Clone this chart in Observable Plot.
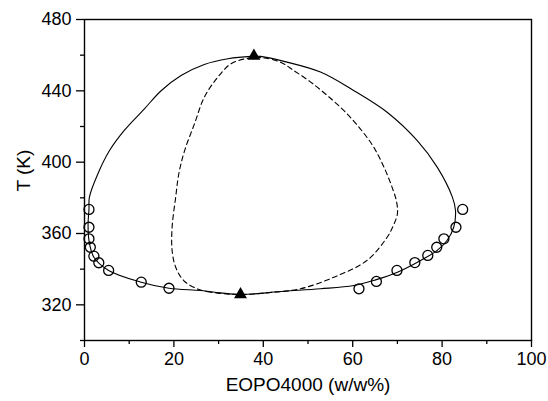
<!DOCTYPE html>
<html><head><meta charset="utf-8">
<script src="https://cdn.jsdelivr.net/npm/d3@7"></script>
<script src="https://cdn.jsdelivr.net/npm/@observablehq/plot@0.6"></script>
<style>body{margin:0;background:#fff}</style>
</head><body><div id="chart"></div>
<script>
// Experimental points (open circles)
const leftX  = [1.0, 1.0, 1.0, 1.3, 2.1, 3.2, 5.4, 12.7, 18.9];
const leftT  = [373.5, 363.5, 357.0, 352.3, 347.3, 343.6, 339.3, 332.7, 329.3];
const rightX = [61.4, 65.3, 69.9, 73.9, 76.8, 78.8, 80.4, 83.1, 84.6];
const rightT = [329.0, 333.1, 339.3, 343.7, 347.7, 352.3, 357.0, 363.5, 373.5];

// Critical points (filled triangles)
const critX = [37.9, 34.9];
const critT = [459.5, 325.8];

// Binodal (solid closed curve)
const binX = [34.9, 30.4, 26.0, 18.9, 12.7, 5.4, 2.1, 1.0, 0.8, 1.0, 1.1, 3.0, 5.6, 8.9, 13.4, 17.2, 21.6, 26.8, 32.1, 37.3,
              39.4, 45.3, 52.8, 60.2, 67.7, 74.4, 78.9, 82.3, 83.0, 82.6, 81.1, 78.9, 75.2, 70.0, 65.1, 60.2, 52.8, 44.6];
const binT = [325.8, 326.7, 328.0, 329.3, 332.7, 339.3, 346.7, 356.1, 365.6, 373.5, 380.4, 393.5, 406.5, 417.8, 429.9, 440.2, 448.6, 454.8, 458.0, 459.3,
              459.3, 456.1, 450.5, 440.2, 428.0, 412.2, 397.2, 380.4, 372.9, 363.5, 356.1, 350.5, 344.9, 338.3, 334.0, 330.8, 329.0, 327.6];

// Spinodal (dashed closed curve)
const spiX = [34.7, 28.2, 25.2, 22.2, 20.4, 19.6, 19.6, 20.4, 21.1, 22.4, 24.6, 26.8, 29.8, 32.8, 36.5,
              39.6, 43.8, 46.8, 50.6, 54.3, 58.0, 61.7, 64.7, 67.0, 68.8, 69.8, 70.0, 69.1, 67.7, 63.2, 55.8, 48.3, 41.6];
const spiT = [325.8, 327.1, 329.0, 333.6, 341.1, 350.5, 363.5, 380.4, 393.5, 406.5, 421.5, 436.4, 447.6, 455.2, 458.2,
              458.6, 456.1, 451.4, 444.9, 437.4, 429.0, 418.7, 408.4, 397.2, 386.0, 378.0, 371.0, 364.5, 357.9, 344.9, 335.5, 329.0, 326.9];

const xMajor = [0, 20, 40, 60, 80, 100];
const xMinor = [10, 30, 50, 70, 90];
const yMajor = [320, 360, 400, 440, 480];
const yMinor = [300, 340, 380, 420, 460];

const xLabel = "EOPO4000 (w/w%)";
const yLabel = "T (K)";

const pts = (xs, ys) => xs.map((x, i) => ({x, y: ys[i]}));

const chart = Plot.plot({
  width: 548,
  height: 401,
  marginLeft: 84,
  marginRight: 17,
  marginTop: 19,
  marginBottom: 61,
  style: {fontFamily: "'Liberation Sans', Arial, sans-serif", fontSize: "18px", background: "#fff", color: "#000"},
  x: {domain: [0, 100]},
  y: {domain: [300, 480]},
  marks: [
    Plot.frame({stroke: "#000", strokeWidth: 1.4}),
    Plot.axisX({ticks: xMajor, tickSize: 7, tickPadding: 5, label: null, strokeWidth: 1.3}),
    Plot.axisX({ticks: xMinor, tickSize: 4, tickFormat: () => "", label: null, strokeWidth: 1.3}),
    Plot.axisY({ticks: yMajor, tickSize: 8, tickPadding: 5, label: null, strokeWidth: 1.3}),
    Plot.axisY({ticks: yMinor, tickSize: 4, tickFormat: () => "", label: null, strokeWidth: 1.3}),
    Plot.line(pts(binX, binT), {x: "x", y: "y", curve: "catmull-rom-closed", stroke: "#000", strokeWidth: 1.1}),
    Plot.line(pts(spiX, spiT), {x: "x", y: "y", curve: "catmull-rom-closed", stroke: "#000", strokeWidth: 1.1, strokeDasharray: "5,3.5"}),
    Plot.dot(pts(leftX, leftT), {x: "x", y: "y", r: 5, stroke: "#000", strokeWidth: 1.3, fill: "none"}),
    Plot.dot(pts(rightX, rightT), {x: "x", y: "y", r: 5, stroke: "#000", strokeWidth: 1.3, fill: "none"}),
    Plot.dot(pts(critX, critT), {x: "x", y: "y", symbol: "triangle", r: 4.8, fill: "#000", stroke: "none"}),
    Plot.text([xLabel], {frameAnchor: "bottom", text: d => d, dy: 50, fontSize: 19}),
    Plot.text([yLabel], {frameAnchor: "left", text: d => d, dx: -61, dy: 11.5, rotate: -90, fontSize: 19})
  ]
});
document.getElementById("chart").appendChild(chart);
</script>
</body></html>
